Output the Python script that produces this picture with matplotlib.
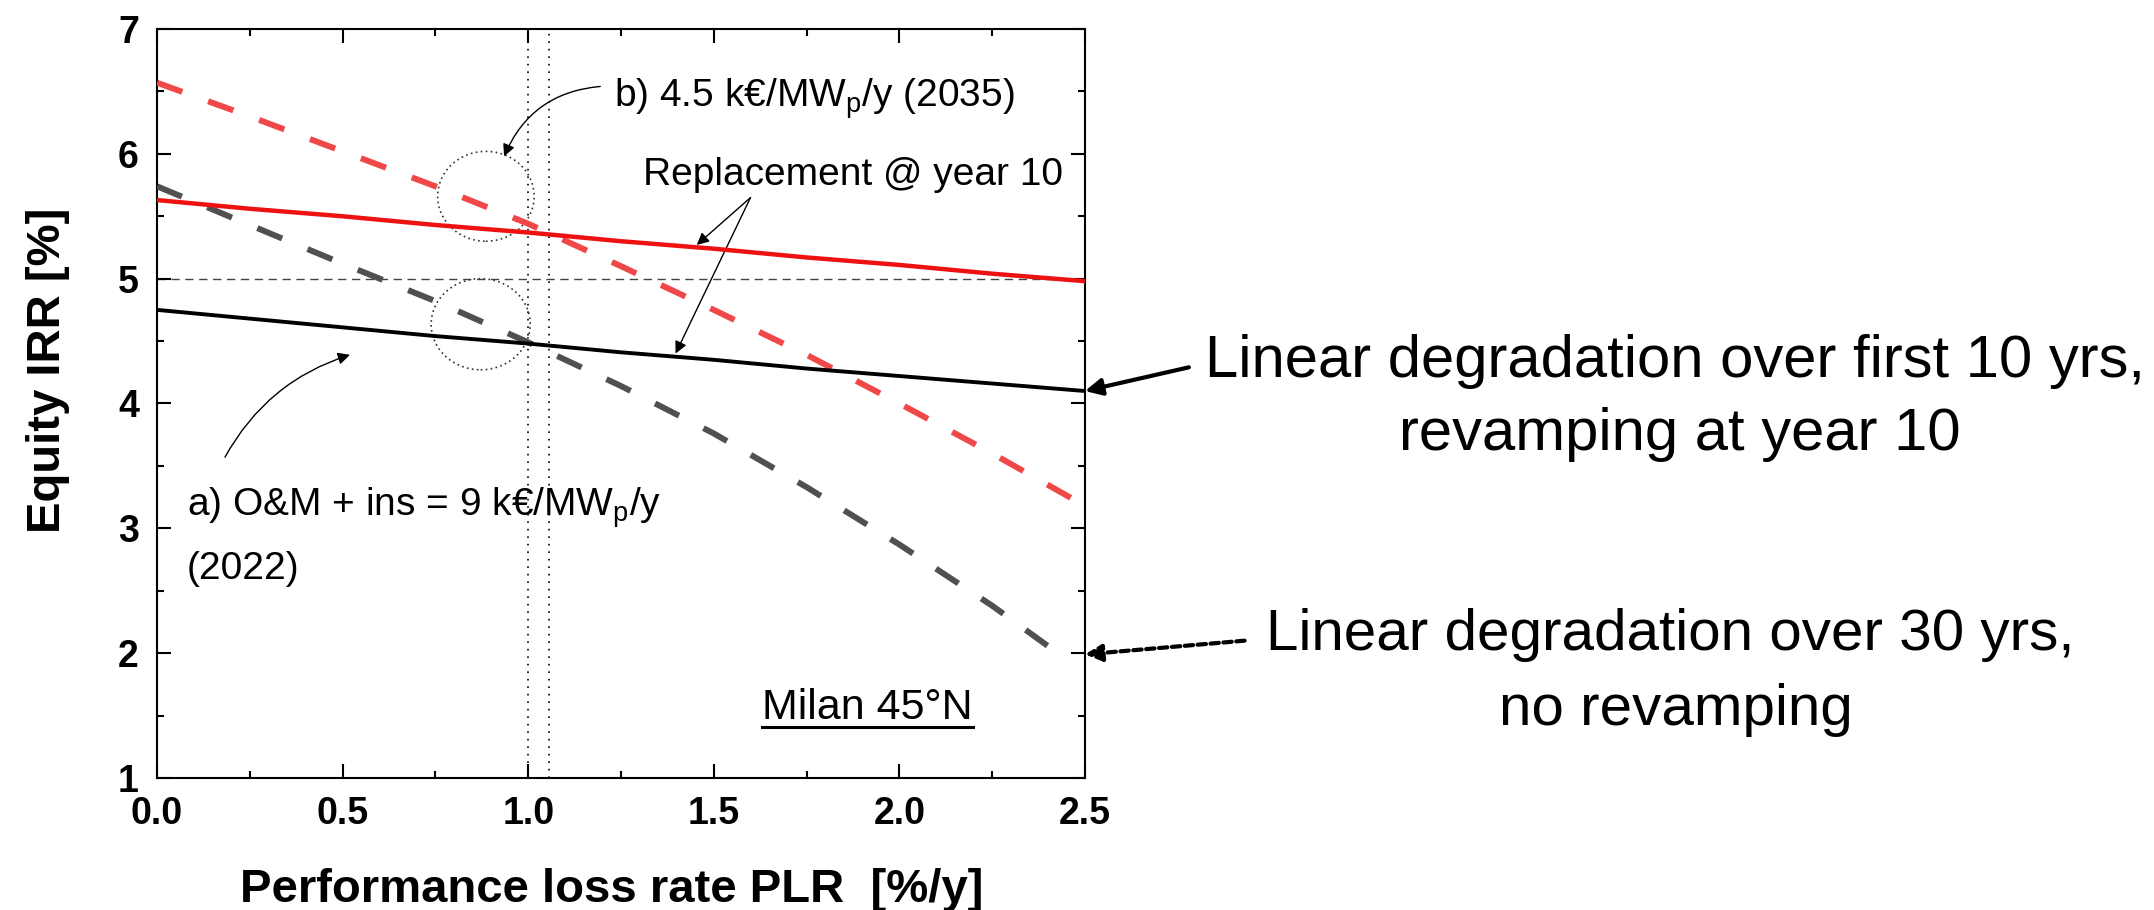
import numpy as np
import matplotlib
matplotlib.use("Agg")
import matplotlib.pyplot as plt
from matplotlib.patches import Ellipse
from matplotlib.lines import Line2D

plt.rcParams['font.family'] = ['Liberation Sans', 'DejaVu Sans']
plt.rcParams['mathtext.fontset'] = 'custom'
plt.rcParams['mathtext.rm'] = 'Liberation Sans'
plt.rcParams['mathtext.it'] = 'Liberation Sans:italic'
plt.rcParams['mathtext.bf'] = 'Liberation Sans:bold'

# PLR grid [%/y]
plr = [0.0, 0.25, 0.5, 0.75, 1.0, 1.25, 1.5, 1.75, 2.0, 2.25, 2.5]
plr_gray = [0.0, 0.25, 0.5, 0.75, 1.0, 1.25, 1.5, 1.75, 2.0, 2.25, 2.45]

# Equity IRR [%]
irr_repl_b = [5.63, 5.56, 5.50, 5.43, 5.37, 5.30, 5.24, 5.17, 5.11, 5.04, 4.98]   # red solid
irr_repl_a = [4.75, 4.68, 4.61, 4.54, 4.48, 4.41, 4.35, 4.28, 4.22, 4.16, 4.10]   # black solid
irr_lin_b = [6.57, 6.30, 6.02, 5.74, 5.44, 5.10, 4.75, 4.39, 4.00, 3.60, 3.18]    # red dashed
irr_lin_a = [5.74, 5.43, 5.12, 4.82, 4.49, 4.14, 3.76, 3.33, 2.87, 2.38, 1.95]    # gray dashed

irr_target = 5.0
plr_marks = [1.0, 1.055]

fig = plt.figure(figsize=(21.54, 9.10), dpi=100)
ax = fig.add_axes([0.0729, 0.1451, 0.4308, 0.8230])

# reference lines
ax.axhline(irr_target, color='#444444', lw=1.0, ls=(0, (6, 4)), zorder=1)
for xm in plr_marks:
    ax.axvline(xm, color='black', lw=1.2, ls=(0, (1, 3.5)), zorder=1)

# curves
ax.plot(plr, irr_lin_b, color='#f04848', lw=4.3, ls=(0, (4.5, 4.6)), zorder=3)
ax.plot(plr_gray, irr_lin_a, color='#505050', lw=4.3, ls=(0, (4.5, 4.6)), zorder=3)
ax.plot(plr, irr_repl_b, color='#ee1111', lw=3.2, zorder=4)
ax.plot(plr, irr_repl_a, color='black', lw=2.8, zorder=4)

# dotted circles
ax.add_patch(Ellipse((0.886, 5.66), 0.26, 0.72, fill=False, ls=(0, (1, 2)), lw=1.2, ec='#333333'))
ax.add_patch(Ellipse((0.872, 4.635), 0.267, 0.73, fill=False, ls=(0, (1, 2)), lw=1.2, ec='#333333'))

ax.set_xlim(0, 2.5)
ax.set_ylim(1, 7)
ax.set_xticks(np.arange(0, 2.51, 0.5))
ax.set_xticks(np.arange(0, 2.51, 0.25), minor=True)
ax.set_yticks(np.arange(1, 7.1, 1))
ax.set_yticks(np.arange(1, 7.1, 0.5), minor=True)
ax.set_xticklabels(['0.0', '0.5', '1.0', '1.5', '2.0', '2.5'])
ax.tick_params(which='both', direction='in', top=True, right=True, width=1.5)
ax.tick_params(which='major', length=10, labelsize=27, pad=13)
ax.tick_params(which='minor', length=5)
for lab in ax.get_xticklabels() + ax.get_yticklabels():
    lab.set_fontweight('bold')
for sp in ax.spines.values():
    sp.set_linewidth(1.5)

# axis labels
fig.text(612 / 2154, 1 - 902 / 910, 'Performance loss rate PLR  [%/y]',
         fontsize=34, fontweight='bold', ha='center', va='baseline')
fig.text(60 / 2154, 1 - 370 / 910, 'Equity IRR [%]', fontsize=34, fontweight='bold',
         rotation=90, rotation_mode='anchor', ha='center', va='baseline')

# annotations inside the plot
ann_fs = 28
thin_arrow = dict(arrowstyle='-|>', lw=1.0, color='black', mutation_scale=18,
                  shrinkA=0, shrinkB=0)
ax.text(1.23, 6.38, 'b) 4.5 k€/MW$_\\mathrm{p}$/y (2035)', fontsize=ann_fs, ha='left', va='baseline')
ax.annotate('', xy=(0.935, 5.98), xytext=(1.194, 6.54),
            arrowprops=dict(thin_arrow, connectionstyle='arc3,rad=0.3'))
ax.text(1.31, 5.75, 'Replacement @ year 10', fontsize=ann_fs, ha='left', va='baseline')
for tip in [(1.454, 5.27), (1.397, 4.40)]:
    ax.annotate('', xy=tip, xytext=(1.599, 5.65), arrowprops=thin_arrow)
ax.text(0.08, 3.10, 'a) O&M + ins = 9 k€/MW$_\\mathrm{p}$/y', fontsize=ann_fs, ha='left', va='baseline')
ax.text(0.08, 2.59, '(2022)', fontsize=ann_fs, ha='left', va='baseline')
ax.annotate('', xy=(0.52, 4.39), xytext=(0.183, 3.57),
            arrowprops=dict(thin_arrow, connectionstyle='arc3,rad=-0.2'))

milan = ax.text(1.63, 1.47, 'Milan 45°N', fontsize=31, ha='left', va='baseline')

# arrows from the right-hand notes to the curve ends
ax.annotate('', xy=(2.5, 4.10), xytext=(2.78, 4.29), annotation_clip=False,
            arrowprops=dict(arrowstyle='-|>', lw=3.0, color='black', mutation_scale=25,
                            shrinkA=0, shrinkB=0))
ax.annotate('', xy=(2.5, 1.99), xytext=(2.93, 2.10), annotation_clip=False,
            arrowprops=dict(arrowstyle='-|>', lw=3.0, color='black', mutation_scale=25,
                            shrinkA=0, shrinkB=0, ls=(0, (2.0, 1.1))))

note_fs = 43
fig.text(1675 / 2154, 1 - 377 / 910, 'Linear degradation over first 10 yrs,', fontsize=note_fs,
         ha='center', va='baseline')
fig.text(1680 / 2154, 1 - 450 / 910, 'revamping at year 10', fontsize=note_fs,
         ha='center', va='baseline')
fig.text(1670 / 2154, 1 - 650 / 910, 'Linear degradation over 30 yrs,', fontsize=42,
         ha='center', va='baseline')
fig.text(1676 / 2154, 1 - 725 / 910, 'no revamping', fontsize=42,
         ha='center', va='baseline')

# underline for the location label
fig.canvas.draw()
bb = milan.get_window_extent()
base_y = ax.transData.transform((1.63, 1.47))[1]
uy = (base_y - 8) / fig.bbox.height
fig.add_artist(Line2D([bb.x0 / fig.bbox.width, bb.x1 / fig.bbox.width], [uy, uy],
                      color='black', lw=2.2, transform=fig.transFigure))

fig.savefig('out.png', dpi=100)
